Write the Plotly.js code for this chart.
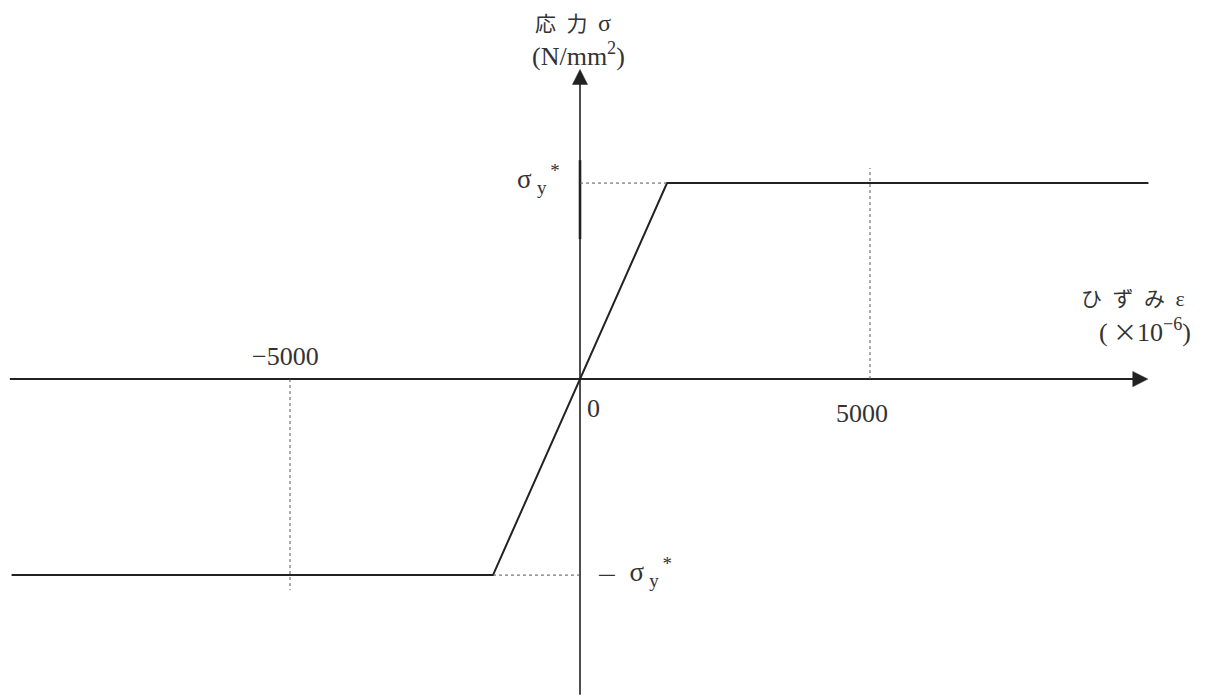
<!DOCTYPE html>
<html>
<head>
<meta charset="utf-8">
<script src="https://cdn.plot.ly/plotly-3.0.1.min.js"></script>
<style>
  html, body { margin: 0; padding: 0; background: #fff; }
  #plotArea { width: 1207px; height: 697px; }
</style>
</head>
<body>
<div id="plotArea"></div>
<script>
// bilinear stress-strain model (stress given in units of sigma_y*)
var strain = [-9800, -1500, 1500, 9800]
var stress = [-1, -1, 1, 1]

// tick positions on the strain axis
var tickVals = [-5000, 0, 5000]
var tickText = ["−5000", "0", "5000"]

var sigmaY = 1
var epsY = 1500

// axis extents
var xMin = -9830, xMax = 9790
var yMin = -1.62, yMax = 1.58

var lineColor = "#222"
var textColor = "#333"
var serif = "Liberation Serif, DejaVu Serif, serif"
var jp = "Noto Sans CJK JP, sans-serif"
var sp = "\u2002"
var thin = "\u2009"

var trace = [{
    x: strain,
    y: stress,
    type: "scatter",
    mode: "lines",
    line: { color: lineColor, width: 2 },
    hoverinfo: "skip"
}]

var dotted = { color: "#555", width: 1, dash: "dot" }

var shapes = [
    // strain axis
    { type: "line", xref: "x", yref: "y", x0: xMin, x1: xMax - 200, y0: 0, y1: 0,
      line: { color: lineColor, width: 2 } },
    // stress axis
    { type: "line", xref: "x", yref: "y", x0: 0, x1: 0, y0: yMin + 0.01, y1: yMax - 0.05,
      line: { color: lineColor, width: 1.6 } },
    // heavier piece on the stress axis
    { type: "line", xref: "x", yref: "y", x0: 0, x1: 0, y0: 0.714, y1: 1.117,
      line: { color: lineColor, width: 2.6 } },
    // arrow heads
    { type: "path", xref: "x", yref: "y",
      path: "M " + (xMax - 260) + " 0.039 L " + xMax + " 0 L " + (xMax - 260) + " -0.039 Z",
      fillcolor: lineColor, line: { color: lineColor, width: 0.5 } },
    { type: "path", xref: "x", yref: "y",
      path: "M -130 " + (yMax - 0.077) + " L 0 " + yMax + " L 130 " + (yMax - 0.077) + " Z",
      fillcolor: lineColor, line: { color: lineColor, width: 0.5 } },
    // guide lines
    { type: "line", xref: "x", yref: "y", x0: 0, x1: epsY, y0: sigmaY, y1: sigmaY, line: dotted },
    { type: "line", xref: "x", yref: "y", x0: -epsY, x1: 0, y0: -sigmaY, y1: -sigmaY, line: dotted },
    { type: "line", xref: "x", yref: "y", x0: tickVals[2], x1: tickVals[2], y0: 0, y1: 1.077, line: dotted },
    { type: "line", xref: "x", yref: "y", x0: tickVals[0], x1: tickVals[0], y0: 0, y1: -1.077, line: dotted }
]

function label(text, x, y, opts) {
    var a = {
        text: text, x: x, y: y, xref: "x", yref: "y",
        showarrow: false, xanchor: "center", yanchor: "middle",
        font: { family: serif, size: 26, color: textColor }
    }
    for (var k in opts) a[k] = opts[k]
    return a
}

var sigmaLabel = "σ" + thin + "<sub>y</sub><sup>" + thin + "*</sup>"

var annotations = [
    label(tickText[0], tickVals[0], 0, { xshift: -5, yshift: 23 }),
    label(tickText[1], tickVals[1], 0, { xshift: 13, yshift: -29 }),
    label(tickText[2], tickVals[2], 0, { xshift: -8, yshift: -34 }),
    label(sigmaLabel, 0, sigmaY, { xanchor: "right", xshift: -18, yshift: 4,
        font: { family: serif, size: 27, color: textColor } }),
    label("<span style='font-family:" + jp + ";font-size:20px'>—</span>" + sp + sigmaLabel, 0, -sigmaY,
        { xanchor: "left", xshift: 16, yshift: 3, font: { family: serif, size: 27, color: textColor } }),
    label("応" + sp + "力" + sp + "<span style='font-family:" + serif + ";font-size:24px'>σ</span>", 0, 0,
        { yref: "paper", y: 1 - 22 / 697, xshift: -7, font: { family: jp, size: 21, color: textColor } }),
    label("(N/mm<sup>2</sup>)", 0, 0,
        { yref: "paper", y: 1 - 55 / 697, xshift: -2, font: { family: serif, size: 26, color: textColor } }),
    label("ひ" + sp + "ず" + sp + "み" + sp + "<span style='font-family:" + serif + ";font-size:22px'>ε</span>", 0, 0,
        { xref: "paper", x: 1133 / 1207, yshift: 82, font: { family: jp, size: 21, color: textColor } }),
    label("(" + thin + "<span style='font-family:" + jp + ";font-size:24px'>×</span>10<sup>−6</sup>)", 0, 0,
        { xref: "paper", x: 1193 / 1207, xanchor: "right", yshift: 49, font: { family: serif, size: 26, color: textColor } })
]

var layout = {
    width: 1207,
    height: 697,
    margin: { l: 0, r: 0, t: 0, b: 0 },
    paper_bgcolor: "#fff",
    plot_bgcolor: "#fff",
    showlegend: false,
    xaxis: { range: [-10000, 10810], visible: false, fixedrange: true },
    yaxis: { range: [-1.622, 1.934], visible: false, fixedrange: true },
    shapes: shapes,
    annotations: annotations
}

Plotly.newPlot("plotArea", trace, layout, { displayModeBar: false, staticPlot: true })
</script>
</body>
</html>
